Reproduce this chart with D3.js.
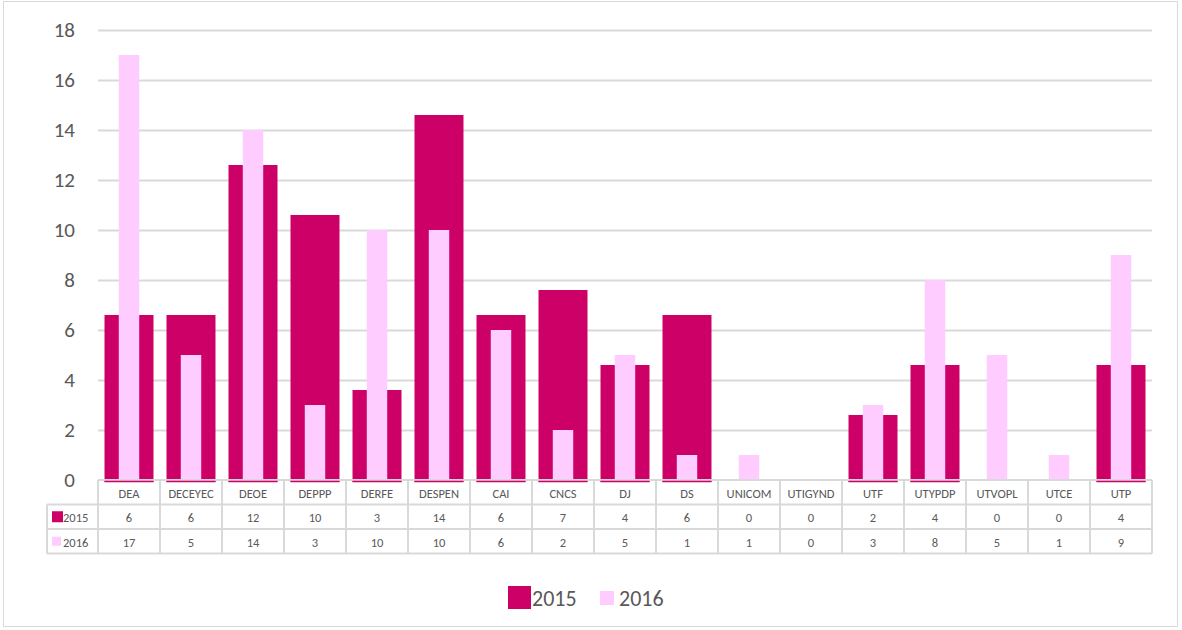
<!DOCTYPE html>
<html>
<head>
<meta charset="utf-8">
<script src="https://cdn.jsdelivr.net/npm/d3@7"></script>
<style>
  body { margin: 0; background: #fff; }
  svg { display: block; font-family: Calibri, Carlito, "Liberation Sans", "Open Sans", sans-serif; }
</style>
</head>
<body>
<svg id="chart" width="1182" height="630"></svg>
<script>
  var categories = ["DEA","DECEYEC","DEOE","DEPPP","DERFE","DESPEN","CAI","CNCS","DJ","DS","UNICOM","UTIGYND","UTF","UTYPDP","UTVOPL","UTCE","UTP"];
  // values shown in the data table
  var values2015 = [6,6,12,10,3,14,6,7,4,6,0,0,2,4,0,0,4];
  var values2016 = [17,5,14,3,10,10,6,2,5,1,1,0,3,8,5,1,9];
  // bar heights as drawn for 2015
  var bars2015 = [6.6,6.6,12.6,10.6,3.6,14.6,6.6,7.6,4.6,6.6,0,0,2.6,4.6,0,0,4.6];
  var yTicks = [0,2,4,6,8,10,12,14,16,18];
  var seriesNames = ["2015","2016"];

  var c2015 = "#CC0066", c2016 = "#FFCCFF";
  var textCol = "#595959", gridCol = "#D9D9D9";

  var svg = d3.select("#chart");

  // outer frame
  svg.append("rect").attr("x", 3.5).attr("y", 1.5).attr("width", 1174).attr("height", 625)
    .attr("fill", "#fff").attr("stroke", "#D9D9D9");

  var plotLeft = 98, plotRight = 1152, plotTop = 30, plotBottom = 480;

  var x = d3.scaleBand().domain(categories).range([plotLeft, plotRight]).paddingInner(0).paddingOuter(0);
  var y = d3.scaleLinear().domain([0, 18]).range([plotBottom, plotTop]);

  // gridlines
  svg.append("g").selectAll("line").data(yTicks.filter(function (d) { return d > 0; }))
    .enter().append("line")
    .attr("x1", plotLeft).attr("x2", plotRight)
    .attr("y1", function (d) { return y(d) + 0.5; })
    .attr("y2", function (d) { return y(d) + 0.5; })
    .attr("stroke", gridCol).attr("stroke-width", 2);

  // y axis labels
  svg.append("g").selectAll("text").data(yTicks)
    .enter().append("text")
    .attr("x", 75).attr("y", function (d) { return y(d); })
    .attr("dy", "0.35em")
    .attr("text-anchor", "end")
    .attr("font-size", 21)
    .attr("fill", textCol)
    .text(function (d) { return d; });

  var bw = x.bandwidth();
  var w15 = bw * 0.79, w16 = bw * 0.33;

  // 2015 bars (wide)
  svg.append("g").selectAll("rect").data(categories)
    .enter().append("rect")
    .attr("x", function (d) { return x(d) + (bw - w15) / 2; })
    .attr("width", w15)
    .attr("y", function (d, i) { return y(bars2015[i]); })
    .attr("height", function (d, i) { return bars2015[i] > 0 ? y(0) - y(bars2015[i]) + 2 : 0; })
    .attr("fill", c2015);

  // 2016 bars (narrow, in front)
  svg.append("g").selectAll("rect").data(categories)
    .enter().append("rect")
    .attr("x", function (d) { return x(d) + (bw - w16) / 2; })
    .attr("width", w16)
    .attr("y", function (d, i) { return y(values2016[i]); })
    .attr("height", function (d, i) { return y(0) - y(values2016[i]); })
    .attr("fill", c2016);

  // data table
  var rowY = [480, 504.5, 529, 553.5];
  var tableLeft = 47;
  var tbl = svg.append("g").attr("stroke", gridCol).attr("stroke-width", 2);

  // horizontal lines
  tbl.append("line").attr("x1", plotLeft).attr("x2", plotRight).attr("y1", rowY[0]).attr("y2", rowY[0]);
  [1, 2, 3].forEach(function (r) {
    tbl.append("line").attr("x1", tableLeft).attr("x2", plotRight).attr("y1", rowY[r]).attr("y2", rowY[r]);
  });
  // vertical lines
  categories.forEach(function (d) {
    tbl.append("line").attr("x1", x(d)).attr("x2", x(d)).attr("y1", rowY[0]).attr("y2", rowY[3]);
  });
  tbl.append("line").attr("x1", plotRight).attr("x2", plotRight).attr("y1", rowY[0]).attr("y2", rowY[3]);
  tbl.append("line").attr("x1", tableLeft).attr("x2", tableLeft).attr("y1", rowY[1]).attr("y2", rowY[3]);

  // dark line under 2015 bars
  svg.append("g").selectAll("line").data(categories.filter(function (d, i) { return bars2015[i] > 0; }))
    .enter().append("line")
    .attr("x1", function (d) { return x(d) + (bw - w15) / 2; })
    .attr("x2", function (d) { return x(d) + (bw - w15) / 2 + w15; })
    .attr("y1", 481.5).attr("y2", 481.5)
    .attr("stroke", c2015).attr("stroke-width", 1.5);

  var rows = [categories, values2015, values2016];
  rows.forEach(function (row, r) {
    svg.append("g").selectAll("text").data(row)
      .enter().append("text")
      .attr("x", function (d, i) { return x(categories[i]) + bw / 2; })
      .attr("y", (rowY[r] + rowY[r + 1]) / 2 + 1)
      .attr("dy", "0.35em")
      .attr("text-anchor", "middle")
      .attr("font-size", 12.5)
      .attr("fill", textCol)
      .text(function (d) { return d; });
  });

  // table legend keys
  [[c2015, 11], [c2016, 9]].forEach(function (k, i) {
    var cy = (rowY[i + 1] + rowY[i + 2]) / 2;
    svg.append("rect").attr("x", 52).attr("y", cy - k[1] / 2).attr("width", k[1]).attr("height", k[1]).attr("fill", k[0]);
    svg.append("text").attr("x", 63).attr("y", cy + 1).attr("dy", "0.35em")
      .attr("font-size", 12.5).attr("fill", textCol).text(seriesNames[i]);
  });

  // bottom legend
  var lg = svg.append("g");
  lg.append("rect").attr("x", 508).attr("y", 586).attr("width", 23).attr("height", 23).attr("fill", c2015);
  lg.append("text").attr("x", 532).attr("y", 598).attr("dy", "0.35em").attr("font-size", 22)
    .attr("fill", textCol).text(seriesNames[0]);
  lg.append("rect").attr("x", 600).attr("y", 591).attr("width", 14).attr("height", 14).attr("fill", c2016);
  lg.append("text").attr("x", 619).attr("y", 598).attr("dy", "0.35em").attr("font-size", 22)
    .attr("fill", textCol).text(seriesNames[1]);
</script>
</body>
</html>
